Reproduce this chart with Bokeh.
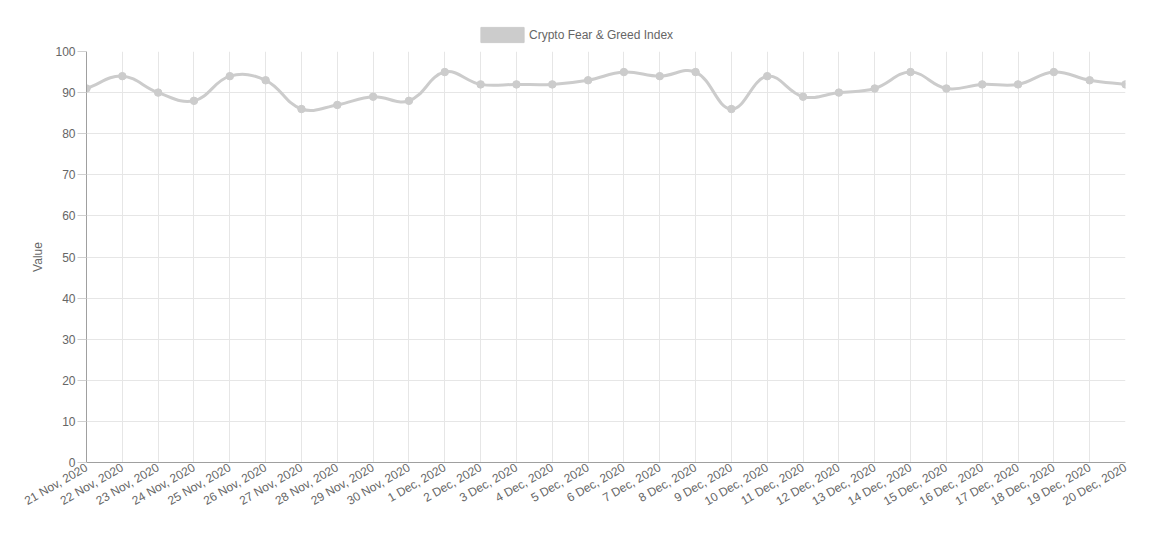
import numpy as np
from bokeh.plotting import figure
from bokeh.layouts import column
from bokeh.models import ColumnDataSource, FixedTicker, Range1d, Legend, LegendItem
from bokeh.embed import file_html
from bokeh.resources import INLINE

dates = ["21 Nov, 2020", "22 Nov, 2020", "23 Nov, 2020", "24 Nov, 2020", "25 Nov, 2020",
         "26 Nov, 2020", "27 Nov, 2020", "28 Nov, 2020", "29 Nov, 2020", "30 Nov, 2020",
         "1 Dec, 2020", "2 Dec, 2020", "3 Dec, 2020", "4 Dec, 2020", "5 Dec, 2020",
         "6 Dec, 2020", "7 Dec, 2020", "8 Dec, 2020", "9 Dec, 2020", "10 Dec, 2020",
         "11 Dec, 2020", "12 Dec, 2020", "13 Dec, 2020", "14 Dec, 2020", "15 Dec, 2020",
         "16 Dec, 2020", "17 Dec, 2020", "18 Dec, 2020", "19 Dec, 2020", "20 Dec, 2020"]
values = [91, 94, 90, 88, 94, 93, 86, 87, 89, 88,
          95, 92, 92, 92, 93, 95, 94, 95, 86, 94,
          89, 90, 91, 95, 91, 92, 92, 95, 93, 92]
y_ticks = [0, 10, 20, 30, 40, 50, 60, 70, 80, 90, 100]
series_name = "Crypto Fear & Greed Index"

FONT = "Liberation Sans"
TXT = "#666666"
LINE = "#cccccc"

W = 1150
HL = 45            # legend strip height
H = 534 - HL       # main chart height
FL, FR, FT, FB = 86, 25, 6, 72
fw, fh = W - FL - FR, H - FT - FB

n = len(values)
xs = np.arange(n, dtype=float)
ys = np.array(values, dtype=float)

# Chart.js-style spline (tension 0.4) computed in pixel space
sx = fw / (n - 1)
sy = fh / 100.0
px, py = xs * sx, ys * sy
t = 0.4
cpl_x, cpl_y, cpr_x, cpr_y = np.zeros(n), np.zeros(n), np.zeros(n), np.zeros(n)
for i in range(n):
    pxp, pyp = (px[i - 1], py[i - 1]) if i > 0 else (px[i], py[i])
    pxn, pyn = (px[i + 1], py[i + 1]) if i < n - 1 else (px[i], py[i])
    d01 = np.hypot(px[i] - pxp, py[i] - pyp)
    d12 = np.hypot(pxn - px[i], pyn - py[i])
    tot = d01 + d12
    s01 = d01 / tot if tot else 0
    s12 = d12 / tot if tot else 0
    fa, fb = t * s01, t * s12
    cpl_x[i] = px[i] - fa * (pxn - pxp)
    cpl_y[i] = py[i] - fa * (pyn - pyp)
    cpr_x[i] = px[i] + fb * (pxn - pxp)
    cpr_y[i] = py[i] + fb * (pyn - pyp)

bez = ColumnDataSource(dict(
    x0=xs[:-1], y0=ys[:-1], x1=xs[1:], y1=ys[1:],
    cx0=cpr_x[:-1] / sx, cy0=cpr_y[:-1] / sy,
    cx1=cpl_x[1:] / sx, cy1=cpl_y[1:] / sy,
))

# ---- legend strip ----
lg = figure(width=W, height=HL, output_backend="svg", toolbar_location=None,
            x_range=Range1d(0, 1), y_range=Range1d(0, 1),
            x_axis_location=None, y_axis_location=None,
            min_border_left=0, min_border_right=0, min_border_top=0, min_border_bottom=0)
lg.outline_line_color = None
lg.grid.visible = False
# swatch renderer kept outside the visible range; only its legend swatch shows
dummy = lg.quad(left=[5], right=[6], top=[6], bottom=[5], fill_color=LINE, line_color=LINE)
legend = Legend(items=[LegendItem(label=series_name, renderers=[dummy])],
                orientation="horizontal", location=(389, 1),
                glyph_width=54, glyph_height=19, label_height=19, label_standoff=0,
                padding=0, margin=0, spacing=0, border_line_color=None,
                background_fill_alpha=0,
                label_text_font=FONT, label_text_font_size="12px", label_text_color=TXT)
lg.add_layout(legend)

# ---- main chart ----
p = figure(width=W, height=H, output_backend="svg", toolbar_location=None,
           x_range=Range1d(0, n - 1), y_range=Range1d(0, 100),
           min_border_left=FL, min_border_right=FR, min_border_top=FT, min_border_bottom=FB)
p.outline_line_color = None
p.background_fill_color = "white"

p.bezier(x0="x0", y0="y0", x1="x1", y1="y1", cx0="cx0", cy0="cy0", cx1="cx1", cy1="cy1",
         source=bez, line_color=LINE, line_width=3)
p.scatter(xs, ys, size=7.5, fill_color=LINE, line_color=LINE, line_width=1)

p.xaxis.ticker = FixedTicker(ticks=list(range(n)))
p.xaxis.major_label_overrides = {i: d for i, d in enumerate(dates)}
p.xaxis.major_label_orientation = np.pi / 6
p.xaxis.major_tick_out = 0
p.xaxis.major_tick_in = 0
p.xaxis.minor_tick_line_color = None
p.xaxis.major_label_standoff = 4

p.yaxis.ticker = FixedTicker(ticks=y_ticks)
p.yaxis.major_tick_out = 9
p.yaxis.major_tick_in = 0
p.yaxis.minor_tick_line_color = None
p.yaxis.major_tick_line_color = "#d0d0d0"
p.yaxis.major_label_standoff = 2
p.yaxis.axis_label = "Value"
p.yaxis.axis_label_standoff = 7

for ax in (p.xaxis, p.yaxis):
    ax.axis_line_color = "#a0a0a0"
    ax.major_label_text_font = FONT
    ax.major_label_text_font_size = "12px"
    ax.major_label_text_color = TXT
    ax.axis_label_text_font = FONT
    ax.axis_label_text_font_size = "12px"
    ax.axis_label_text_color = TXT
    ax.axis_label_text_font_style = "normal"

p.xgrid.ticker = FixedTicker(ticks=list(range(n)))
p.ygrid.ticker = FixedTicker(ticks=y_ticks)
p.grid.grid_line_color = "#e6e6e6"
p.grid.grid_line_width = 1

page = column(lg, p, spacing=0)
open("out.html", "w").write(file_html(page, INLINE))
